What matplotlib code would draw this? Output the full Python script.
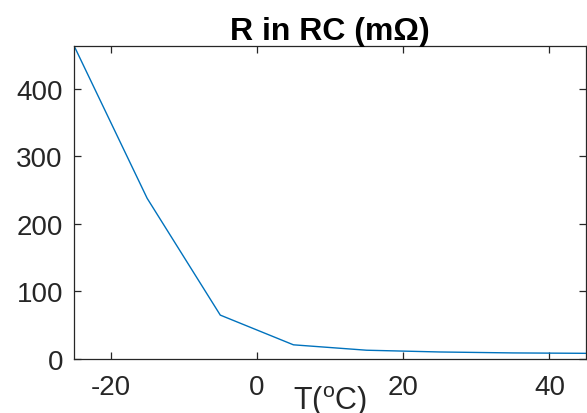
import matplotlib
matplotlib.use("Agg")
import matplotlib.pyplot as plt

# temperatura (graus C) e resistencia R do ramo RC (mOhm)
temp = [-25, -15, -5, 5, 15, 25, 35, 45]
resist = [464, 238, 65, 21, 13, 10.4, 9, 8.4]

xticks = [-20, 0, 20, 40]
yticks = [0, 100, 200, 300, 400]

plt.rcParams['font.family'] = ['Liberation Sans', 'DejaVu Sans']
plt.rcParams['mathtext.fontset'] = 'custom'
plt.rcParams['mathtext.rm'] = 'Liberation Sans'
plt.rcParams['axes.unicode_minus'] = False

cinza = '#262626'

fig = plt.figure(figsize=(5.87, 4.14), dpi=100)
ax = fig.add_axes([74/587, 1 - 360/414, 512/587, (360 - 46.7)/414])

ax.plot(temp, resist, color='#0072BD', lw=1.0)

ax.set_xlim(-25, 45)
ax.set_ylim(0, 464)
ax.set_xticks(xticks)
ax.set_yticks(yticks)

for s in ax.spines.values():
    s.set_color(cinza)
    s.set_linewidth(0.9)
ax.tick_params(direction='in', length=5, width=0.9, color=cinza,
               labelcolor=cinza, labelsize=20, top=True, right=True)
ax.tick_params(axis='x', pad=11)
ax.tick_params(axis='y', pad=8)

ax.set_title('R in RC (m\u03a9)', fontsize=23, fontweight='bold', pad=5)
ax.text(0.5, -(410 - 360)/314, r'T($^{\mathrm{o}}$C)', transform=ax.transAxes,
        ha='center', va='baseline', fontsize=22, color=cinza)

fig.savefig('out.png', dpi=100)
